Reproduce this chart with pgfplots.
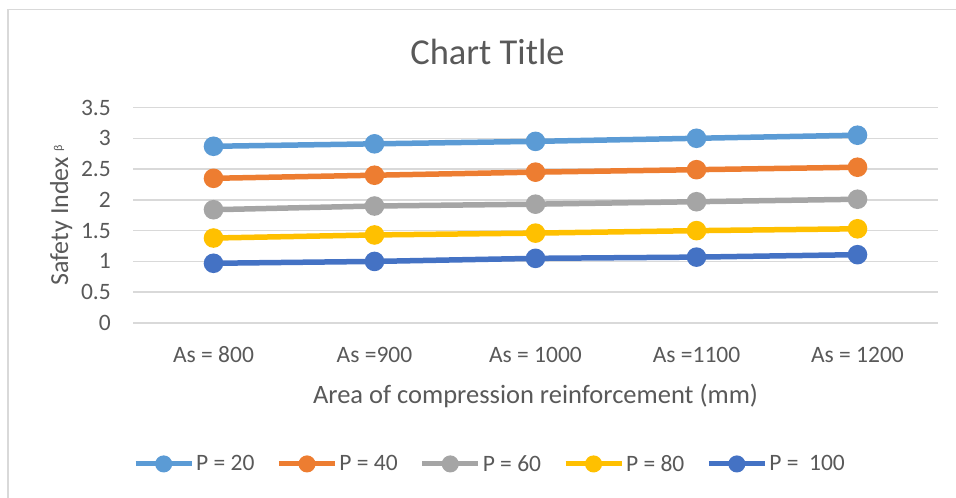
\documentclass[border=0pt]{standalone}
\usepackage{pgfplots}
\pgfplotsset{compat=1.18}
\usepackage{fontspec}
\setmainfont{Carlito}
\definecolor{txt}{HTML}{595959}
\definecolor{grd}{HTML}{D9D9D9}
\definecolor{cA}{HTML}{5B9BD5}
\definecolor{cB}{HTML}{ED7D31}
\definecolor{cC}{HTML}{A5A5A5}
\definecolor{cD}{HTML}{FFC000}
\definecolor{cE}{HTML}{4472C4}
\begin{document}
\begin{tikzpicture}[x=1pt,y=1pt]
\useasboundingbox (0,0) rectangle (956,498);
\draw[grd, line width=1.5pt] (8,0) -- (8,488.5) -- (956,488.5);
\node[anchor=base, text=txt, font=\fontsize{36.5}{36.5}\selectfont] at (487.5,433) {Chart Title};
\begin{axis}[
    at={(133pt,175pt)}, anchor=south west,
    scale only axis, width=805pt, height=215.5pt,
    xmin=-0.5, xmax=4.5, ymin=0, ymax=3.5,
    xtick={0,1,2,3,4},
    xticklabels={As = 800, As =900, As = 1000, As =1100, As = 1200},
    ytick={0,0.5,...,3.5},
    /pgf/number format/assume math mode=true,
    axis line style={draw=none},
    major tick style={draw=none},
    ymajorgrids, grid style={grd, line width=1.5pt},
    tick label style={text=txt, font=\fontsize{23.5}{23.5}\selectfont},
    xticklabel style={anchor=base, yshift=-39pt},
    yticklabel style={anchor=east, inner sep=0pt, xshift=-22pt},
    xlabel={Area of compression reinforcement (mm)},
    xlabel style={at={(axis description cs:0.5,0)}, anchor=base, yshift=-80pt, text=txt, font=\fontsize{26.5}{26.5}\selectfont},
    ylabel={Safety Index \raisebox{6pt}{\fontsize{12}{12}\selectfont β}},
    ylabel style={at={(axis description cs:-0.0807,0.5)}, anchor=base, rotate=0, text=txt, font=\fontsize{26}{26}\selectfont},
    clip=false,
    legend columns=5,
    legend cell align=left,
    legend style={draw=none, fill=none, inner sep=0pt, anchor=west,
        at={(axis description cs:0,-0.654)},
        nodes={inner sep=2pt, text=txt, font=\fontsize{23.5}{23.5}\selectfont},
        /tikz/every even column/.append style={column sep=20pt}},
    legend image code/.code={
        \draw[line width=5pt, mark size=6pt, mark repeat=2, mark phase=2] plot coordinates {(0pt,0pt) (28pt,0pt) (56pt,0pt)};
    },
    every axis plot/.append style={line width=5.5pt, mark=*, mark size=7pt, mark options={line width=1pt}},
]
\addplot[cA, mark options={fill=cA}] coordinates {(0,2.87) (1,2.91) (2,2.95) (3,3.00) (4,3.05)};
\addlegendentry{P = 20}
\addplot[cB, mark options={fill=cB}] coordinates {(0,2.35) (1,2.40) (2,2.45) (3,2.49) (4,2.53)};
\addlegendentry{P = 40}
\addplot[cC, mark options={fill=cC}] coordinates {(0,1.84) (1,1.90) (2,1.93) (3,1.97) (4,2.01)};
\addlegendentry{P = 60}
\addplot[cD, mark options={fill=cD}] coordinates {(0,1.38) (1,1.43) (2,1.46) (3,1.50) (4,1.53)};
\addlegendentry{P = 80}
\addplot[cE, mark options={fill=cE}] coordinates {(0,0.97) (1,1.00) (2,1.05) (3,1.07) (4,1.11)};
\addlegendentry{P =\ \ 100}
\end{axis}
\end{tikzpicture}
\end{document}
